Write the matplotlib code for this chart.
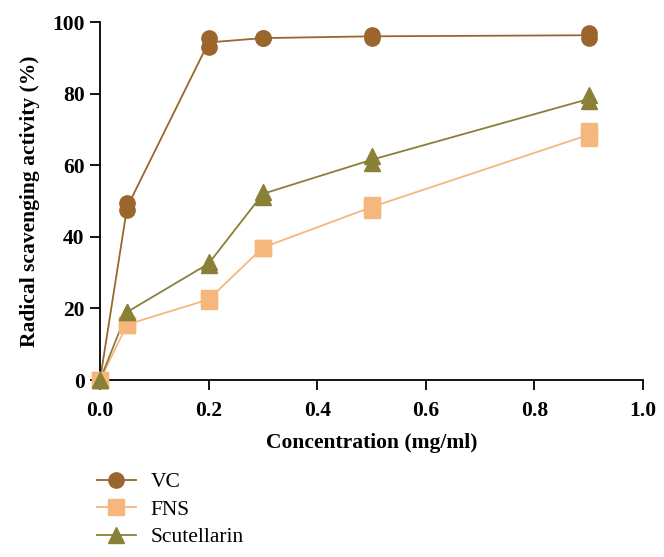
import matplotlib
matplotlib.use("Agg")
import matplotlib.pyplot as plt
import numpy as np
from matplotlib.lines import Line2D

plt.rcParams['font.family'] = ['Liberation Serif', 'DejaVu Serif']

conc = [0.0, 0.05, 0.2, 0.3, 0.5, 0.9]

# replicate readings per concentration
vc_rep1 = [0.0, 47.5, 93.0, 95.5, 95.5, 95.5]
vc_rep2 = [0.0, 49.5, 95.5, 95.5, 96.5, 97.0]
vc_mean = [0.0, 48.3, 94.3, 95.5, 96.0, 96.3]

fns_rep1 = [0.0, 15.5, 22.0, 37.0, 47.5, 67.5]
fns_rep2 = [0.0, 15.5, 23.0, 37.0, 49.0, 69.5]
fns_mean = [0.0, 15.5, 22.5, 37.0, 48.3, 68.5]

scu_rep1 = [0.0, 19.0, 32.0, 51.0, 60.5, 78.0]
scu_rep2 = [0.0, 19.0, 33.0, 52.5, 62.5, 79.5]
scu_mean = [0.0, 19.0, 32.5, 52.0, 61.5, 78.5]

labels = ["VC", "FNS", "Scutellarin"]
colors = ["#9A662B", "#F5B77D", "#8A8038"]
markers = ["o", "s", "^"]

W, H = 664, 557
fig = plt.figure(figsize=(W / 100, H / 100), dpi=100)
ax = fig.add_axes([100 / W, 1 - 380 / H, 543 / W, 358 / H])

series = [(vc_rep1, vc_rep2, vc_mean), (fns_rep1, fns_rep2, fns_mean), (scu_rep1, scu_rep2, scu_mean)]
handles = []
for (r1, r2, m), lab, c, mk in zip(series, labels, colors, markers):
    ax.plot(conc, m, color=c, lw=1.3, zorder=2, clip_on=False)
    ms = 11 if mk != "^" else 12
    for r in (r1, r2):
        ax.plot(conc, r, ls='none', marker=mk, ms=ms, color=c, mec=c, zorder=3, clip_on=False)
    handles.append(Line2D([], [], color=c, lw=1.3, marker=mk, ms=ms, mec=c))

ax.set_xlim(0, 1.0)
ax.set_ylim(0, 100)
ax.set_xticks([0.0, 0.2, 0.4, 0.6, 0.8, 1.0])
ax.set_xticklabels(["0.0", "0.2", "0.4", "0.6", "0.8", "1.0"])
ax.set_yticks([0, 20, 40, 60, 80, 100])
for s in ["top", "right"]:
    ax.spines[s].set_visible(False)
for s in ["left", "bottom"]:
    ax.spines[s].set_linewidth(1.3)
ax.tick_params(direction='out', length=7, width=1.3, labelsize=15.5)
ax.tick_params(axis='x', pad=8)
ax.tick_params(axis='y', pad=4)
for t in ax.get_xticklabels() + ax.get_yticklabels():
    t.set_fontweight('bold')

ax.set_xlabel("Concentration (mg/ml)", fontsize=15.5, fontweight='bold', labelpad=9)
ax.set_ylabel("Radical scavenging activity (%)", fontsize=15.5, fontweight='bold', labelpad=9)

fig.legend(handles=handles, labels=labels, loc='upper left',
           bbox_to_anchor=(97 / W, 1 - 472 / H),
           frameon=False, fontsize=15.5, handlelength=1.8, labelspacing=0.35, borderpad=0,
           borderaxespad=0, handletextpad=0.7)

fig.savefig("out.png", dpi=100)
